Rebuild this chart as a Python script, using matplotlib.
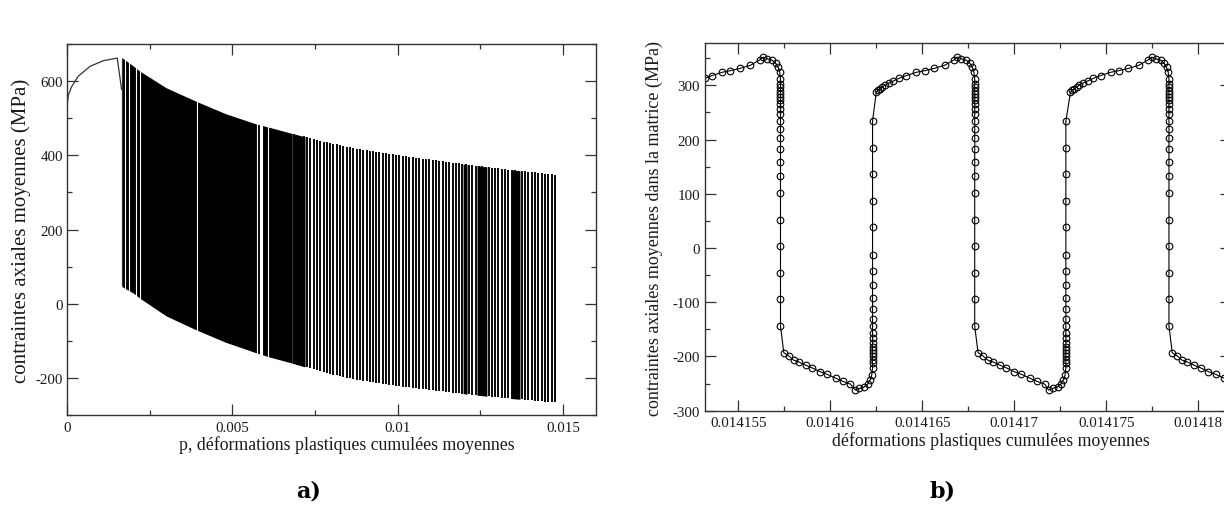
import numpy as np
import matplotlib
matplotlib.use("Agg")
import matplotlib.pyplot as plt
from matplotlib.ticker import MultipleLocator, FuncFormatter

# ---------------- data: panel a) ----------------
# initial monotonic loading (p, stress in MPa)
mono_p = [0.0, 0.00004, 0.00014, 0.00034, 0.00070, 0.00110, 0.00152, 0.00165]
mono_s = [530, 562, 585, 613, 640, 655, 662, 578]

# envelopes of the cyclic part (upper = tension peaks, lower = compression peaks)
env_p   = [0.00165, 0.00168, 0.00200, 0.00220, 0.00300, 0.00392, 0.00480, 0.00574,
           0.00614, 0.00680, 0.00780, 0.00886, 0.01020, 0.01158, 0.01310, 0.01476]
env_top = [580, 662, 641, 627, 582, 545, 512, 484,
           475, 459, 436, 416, 398, 381, 364, 348]
env_bot = [50, 45, 29, 15, -33, -71, -104, -133,
           -144, -160, -186, -207, -224, -239, -253, -266]

# range where the reversals are so dense that the band is solid black
solid_range = (0.00165, 0.00680)
# thin white gaps seen in the solid band
gap_p = [0.00175, 0.00188, 0.00209, 0.00221, 0.00392, 0.00574, 0.00583, 0.00587,
         0.00591, 0.00609]
# individual reversal lines in the striped part (x 1e-3)
stripe_p = [6.86, 6.96, 7.05, 7.16, 7.25, 7.36, 7.46, 7.55, 7.66, 7.76, 7.86, 7.95,
            8.06, 8.16, 8.25, 8.36, 8.46, 8.55, 8.66, 8.76, 8.85, 8.96, 9.06, 9.15,
            9.26, 9.36, 9.45, 9.56, 9.66, 9.75, 9.86, 9.96, 10.05, 10.16, 10.26, 10.35,
            10.46, 10.56, 10.65, 10.76, 10.86, 10.95, 11.06, 11.16, 11.25, 11.36, 11.46,
            11.55, 11.66, 11.76, 11.85, 11.96, 12.06, 12.15, 12.26, 12.36, 12.45, 12.56,
            12.66, 12.75, 12.86, 12.96, 13.05, 13.16, 13.26, 13.35, 13.46, 13.56, 13.65,
            13.76, 13.86, 13.95, 14.06, 14.16, 14.25, 14.36, 14.46, 14.55, 14.66, 14.75]
dense_bands = [(0.00680, 0.00720), (0.01198, 0.01210), (0.01240, 0.01270),
               (0.01343, 0.01370)]

# ---------------- data: panel b) ----------------
# reversal positions (p) read on the picture
desc_p = [0.0141573, 0.01416785, 0.0141784]   # tension -> compression
asc_p  = [0.0141623, 0.0141728, 0.0141834]    # compression -> tension
# tension branch, offsets (1e-6) before a descent
tens_dp = [-5.35, -5.25, -5.14, -5.02, -4.87, -4.67, -4.42, -4.10, -3.71, -3.17, -2.72,
           -2.21, -1.63, -1.12, -0.94, -0.72, -0.45, -0.27, -0.13, -0.04]
tens_s  = [287, 291, 294, 297, 300, 304, 308, 313, 318, 324, 327,
           331, 337, 347, 352, 349, 346, 341, 333, 324]
# points along the descent
desc_s = [311, 302, 296, 290, 284, 278, 272, 266, 256, 247, 234, 220, 203, 183, 159,
          133, 102, 51, 3, -46, -94, -144]
# compression branch, offsets (1e-6) after a descent
comp_dp = [0.18, 0.45, 0.72, 0.99, 1.36, 1.72, 2.14, 2.54, 2.99, 3.39, 3.80]
comp_s  = [-193, -199, -207, -210, -216, -221, -228, -233, -240, -246, -251]
# rounding before an ascent, offsets (1e-6)
bot_dp = [-0.94, -0.72, -0.45, -0.27, -0.13, -0.04]
bot_s  = [-262, -259, -256, -251, -243, -234]
# points along the ascent
asc_s = [-221, -212, -206, -200, -194, -188, -182, -176, -166, -157, -144, -130, -113,
         -93, -69, -43, -12, 39, 87, 136, 184, 234]

# ---------------- figure ----------------
plt.rcParams["axes.unicode_minus"] = False
W, H = 1224, 506
fig = plt.figure(figsize=(W / 100, H / 100), dpi=100)
TXT = "#1a1a1a"
SERIF = ["Liberation Serif", "DejaVu Serif"]


def rect(l, t, r, b):
    return [l / W, 1 - b / H, (r - l) / W, (b - t) / H]


def style(ax, lab_pad_x, lab_pad_y):
    for s in ax.spines.values():
        s.set_color("#333333")
        s.set_linewidth(1.0)
    ax.tick_params(which="both", direction="in", top=True, right=True,
                   colors="#333333", labelcolor=TXT, width=0.9)
    ax.tick_params(which="major", length=7.9)
    ax.tick_params(which="minor", length=3.8)
    ax.tick_params(axis="x", pad=lab_pad_x)
    ax.tick_params(axis="y", pad=lab_pad_y)
    for lab in ax.get_xticklabels() + ax.get_yticklabels():
        lab.set_family(SERIF)
        lab.set_fontsize(10.8)


gfmt = FuncFormatter(lambda v, pos: "%g" % v)

# ---- panel a)
axA = fig.add_axes(rect(67, 45, 596, 416))
axA.plot(mono_p, mono_s, color="#333333", lw=0.9)
ep = np.array(env_p)
axA.fill_between(ep, env_bot, env_top,
                 where=(ep >= solid_range[0]) & (ep <= solid_range[1]),
                 color="black", lw=0, interpolate=False)
for a0, a1 in dense_bands:
    seg = [a0, a1]
    axA.fill_between(seg, np.interp(seg, env_p, env_bot), np.interp(seg, env_p, env_top),
                     color="black", lw=0)
sp = np.array(stripe_p) * 1e-3
axA.vlines(sp, np.interp(sp, env_p, env_bot), np.interp(sp, env_p, env_top),
           color="black", lw=1.35)
gp = np.array(gap_p)
axA.vlines(gp, np.interp(gp, env_p, env_bot) - 2, np.interp(gp, env_p, env_top) + 2,
           color="white", lw=0.8)
axA.vlines([solid_range[0]], [env_bot[0]], [env_top[1]], color="#333333", lw=0.9)
axA.set_xlim(0, 0.016)
axA.set_ylim(-300, 700)
axA.xaxis.set_major_locator(MultipleLocator(0.005))
axA.xaxis.set_minor_locator(MultipleLocator(0.0025))
axA.yaxis.set_major_locator(MultipleLocator(200))
axA.yaxis.set_minor_locator(MultipleLocator(100))
axA.xaxis.set_major_formatter(gfmt)
axA.yaxis.set_major_formatter(gfmt)
style(axA, 4.5, 3.0)

# ---- panel b)
xs, ys = [], []
for i, d in enumerate(desc_p):
    xs += [d + v * 1e-6 for v in tens_dp]; ys += tens_s
    xs += [d] * len(desc_s); ys += desc_s
    xs += [d + v * 1e-6 for v in comp_dp]; ys += comp_s
    a = asc_p[i]
    xs += [a + v * 1e-6 for v in bot_dp]; ys += bot_s
    xs += [a] * len(asc_s); ys += asc_s

axB = fig.add_axes(rect(705, 44, 1231, 411.7))
axB.plot(xs, ys, color="black", lw=0.8, marker="o", ms=4.8, mfc="none",
         mec="black", mew=0.8)
axB.set_xlim(0.0141532, 0.01418177)
axB.set_ylim(-300, 378)
axB.xaxis.set_major_locator(MultipleLocator(5e-6))
axB.xaxis.set_minor_locator(MultipleLocator(2.5e-6))
axB.yaxis.set_major_locator(MultipleLocator(100))
axB.yaxis.set_minor_locator(MultipleLocator(50))
axB.xaxis.set_major_formatter(gfmt)
axB.yaxis.set_major_formatter(gfmt)
style(axB, 3.5, 3.5)

# ---- labels
def ftext(x, y, s, **kw):
    fig.text(x / W, 1 - y / H, s, **kw)

ftext(21, 231, "contraintes axiales moyennes (MPa)", rotation=90, ha="center",
      va="center", family=SERIF, fontsize=15, color=TXT)
ftext(347, 450, "p, déformations plastiques cumulées moyennes", ha="center",
      va="baseline", family=SERIF, fontsize=12.8, color=TXT)
ftext(654, 228, "contraintes axiales moyennes dans la matrice (MPa)", rotation=90,
      ha="center", va="center", family=SERIF, fontsize=13, color=TXT)
ftext(991, 446, "déformations plastiques cumulées moyennes", ha="center",
      va="baseline", family=SERIF, fontsize=12.8, color=TXT)
ftext(309, 492, "a)", ha="center", va="center", family=["DejaVu Serif"],
      fontweight="bold", fontsize=16, color="black")
ftext(942, 492, "b)", ha="center", va="center", family=["DejaVu Serif"],
      fontweight="bold", fontsize=16, color="black")

fig.savefig("out.png", dpi=100, facecolor="white")
